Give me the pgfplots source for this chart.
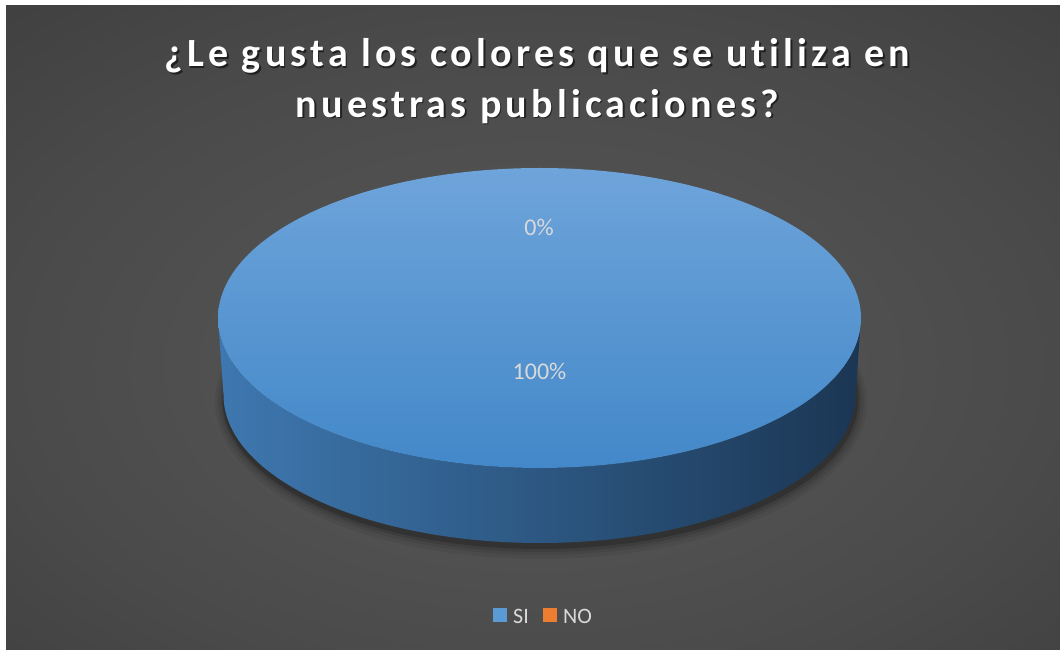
\documentclass[border=0pt]{standalone}
\usepackage{pgfplots}
\pgfplotsset{compat=1.18}
\usepackage{pgfplotstable}
\usepackage{fontspec}
\setmainfont{Carlito}
\newfontfamily\titlefont[LetterSpace=10.5,Ligatures={NoCommon}]{Carlito}

\definecolor{si}{HTML}{5B9BD5}
\definecolor{no}{HTML}{ED7D31}
\definecolor{lbl}{HTML}{D9D9D9}
\definecolor{bgA}{HTML}{595959}
\definecolor{bgB}{HTML}{4A4A4A}
\definecolor{bgC}{HTML}{363636}
\definecolor{bgD}{HTML}{232323}
\definecolor{topT}{HTML}{6EA4DA}
\definecolor{topM}{HTML}{5297D6}
\definecolor{topB}{HTML}{4388C9}
\definecolor{sideL}{HTML}{3E78B0}
\definecolor{sideM}{HTML}{274F78}
\definecolor{sideR}{HTML}{1B3653}

\pgfdeclareradialshading{bgshade}{\pgfpoint{0bp}{-4bp}}{color(0bp)=(bgA); color(25bp)=(bgB); color(50bp)=(bgC); color(71bp)=(bgD)}

\pgfplotstableread{
label value
SI 100
NO 0
}\piedata
\pgfplotstablegetelem{0}{value}\of\piedata \let\siv\pgfplotsretval
\pgfplotstablegetelem{1}{value}\of\piedata \let\nov\pgfplotsretval

\begin{document}
\begin{tikzpicture}
\begin{axis}[width=1060bp,height=651bp,scale only axis,
  xmin=0,xmax=1060,ymin=0,ymax=651,hide axis,clip=false]
\fill[white] (axis cs:0,0) rectangle (axis cs:1060,651);
\shade[shading=bgshade] (axis cs:6,1) rectangle (axis cs:1060,645);
% soft shadow under the pie
\fill[black,opacity=0.05] (axis cs:541,249) ellipse[x radius=326bp,y radius=157bp];
\fill[black,opacity=0.07] (axis cs:541,250) ellipse[x radius=323bp,y radius=154bp];
\fill[black,opacity=0.10] (axis cs:541,251) ellipse[x radius=320bp,y radius=152bp];
\fill[black,opacity=0.18] (axis cs:540.5,252) ellipse[x radius=318bp,y radius=150bp];
% side of the pie
\shade[left color=sideL, middle color=sideM, right color=sideR]
  (axis cs:218,333) arc[start angle=180,end angle=360,x radius=321.5bp,y radius=150bp]
  -- (axis cs:855.5,256) arc[start angle=0,end angle=-180,x radius=316bp,y radius=148bp] -- cycle;
% top face: SI slice
\addplot[draw=none, top color=topT, middle color=topM, bottom color=topB,
  domain={90-3.6*\siv}:90, samples=240, variable=\t]
  ({539.5+321.5*cos(\t)},{333+150*sin(\t)}) -- cycle;
% data labels
\node[font=\fontsize{24bp}{28bp}\selectfont, text=lbl] at (axis cs:539,424) {\nov\%};
\node[font=\fontsize{24bp}{28bp}\selectfont, text=lbl] at (axis cs:539.5,280) {\siv\%};
% title
\node[anchor=base, font=\titlefont\bfseries\fontsize{40bp}{48bp}\selectfont, text=black, opacity=0.55] at (axis cs:539,582.8) {¿Le gusta los colores que se utiliza en};
\node[anchor=base, font=\titlefont\bfseries\fontsize{40bp}{48bp}\selectfont, text=black, opacity=0.55] at (axis cs:539,532.2) {nuestras publicaciones?};
\node[anchor=base, font=\titlefont\bfseries\fontsize{40bp}{48bp}\selectfont, text=white] at (axis cs:537.5,584.3) {¿Le gusta los colores que se utiliza en};
\node[anchor=base, font=\titlefont\bfseries\fontsize{40bp}{48bp}\selectfont, text=white] at (axis cs:537.5,533.7) {nuestras publicaciones?};
% legend
\fill[si] (axis cs:493,28.5) rectangle (axis cs:507,42.5);
\node[anchor=base west, inner sep=0pt, font=\fontsize{22bp}{26bp}\selectfont, text=lbl] at (axis cs:513,28) {SI};
\fill[no] (axis cs:543,28.5) rectangle (axis cs:557,42.5);
\node[anchor=base west, inner sep=0pt, font=\fontsize{22bp}{26bp}\selectfont, text=lbl] at (axis cs:563,28) {NO};
\end{axis}
\end{tikzpicture}
\end{document}
